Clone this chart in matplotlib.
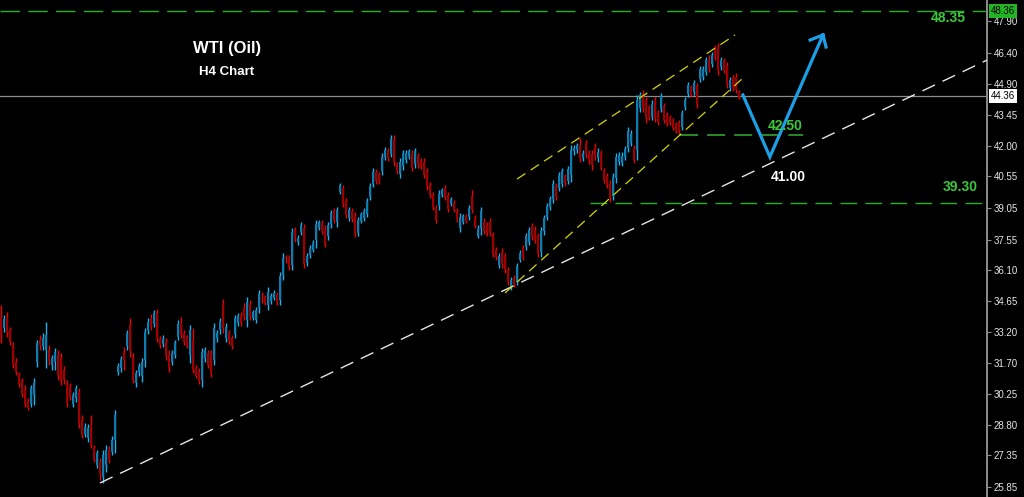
import matplotlib
matplotlib.use("Agg")
import matplotlib.pyplot as plt
import matplotlib.transforms as mtransforms
import numpy as np

plt.rcParams['font.family'] = ['Liberation Sans', 'DejaVu Sans']

# ---------------- data (H4 OHLC bars) ----------------
open_ = [
    33.84, 33.37, 33.84, 33.28, 32.57, 31.77, 31.20, 30.86, 30.44, 29.92,
    29.78, 30.20, 31.77, 32.81, 32.52, 32.33, 32.33, 31.62, 31.77, 32.10,
    31.95, 31.39, 30.67, 30.63, 29.78, 30.06, 30.35, 29.02, 28.36, 28.17,
    28.78, 27.70, 26.89, 27.04, 26.32, 26.89, 27.65, 27.51, 28.07, 31.29,
    31.48, 32.24, 32.52, 33.51, 32.00, 30.77, 31.29, 31.10, 31.86, 33.28,
    33.84, 33.56, 34.08, 32.85, 32.62, 32.71, 32.10, 31.77, 32.10, 32.95,
    33.61, 33.14, 32.95, 32.10, 32.81, 31.48, 31.29, 30.91, 31.95, 32.19,
    32.10, 31.86, 32.90, 33.28, 34.46, 32.90, 33.14, 32.90, 33.09, 33.61,
    33.99, 34.32, 33.75, 34.51, 33.84, 33.75, 34.32, 34.79, 34.84, 34.46,
    34.65, 34.79, 34.93, 34.70, 35.88, 36.69, 36.69, 36.35, 38.01, 37.44,
    37.91, 38.10, 36.45, 36.83, 37.06, 37.54, 38.10, 38.34, 38.01, 37.73,
    38.29, 38.91, 38.39, 39.81, 39.99, 39.38, 38.58, 38.91, 38.67, 37.87,
    38.44, 38.58, 38.77, 39.57, 40.19, 40.75, 40.61, 40.80, 41.46, 41.75,
    41.61, 42.32, 41.13, 40.66, 41.04, 41.32, 41.46, 41.65, 41.13, 41.51,
    41.27, 41.23, 40.75, 40.14, 39.67, 39.05, 39.15, 39.67, 39.99, 39.67,
    39.24, 39.28, 38.91, 38.10, 38.39, 38.67, 38.63, 39.62, 38.58, 37.73,
    38.10, 38.39, 38.25, 38.39, 37.77, 37.06, 36.35, 36.97, 36.78, 36.11,
    35.31, 35.74, 35.55, 36.59, 37.16, 37.21, 37.44, 38.20, 38.01, 37.73,
    36.97, 37.96, 38.63, 39.10, 39.48, 40.09, 39.99, 40.19, 40.56, 40.33,
    40.61, 41.75, 41.80, 42.03, 41.42, 42.13, 41.65, 41.61, 41.94, 41.42,
    41.65, 40.80, 40.56, 40.19, 39.62, 40.47, 41.23, 41.18, 41.46, 41.89,
    42.13, 41.89, 41.80, 43.78, 44.45, 44.16, 43.78, 43.36, 44.16, 43.55,
    43.74, 43.88, 43.45, 43.36, 43.17, 43.03, 43.07, 42.88, 43.83, 44.45,
    44.78, 44.54, 44.82, 45.15, 45.25, 45.49, 46.05, 45.87, 46.62, 46.67,
    45.72, 46.01, 45.77, 44.73, 45.20, 45.25, 44.54,
]
high = [
    34.46, 33.99, 34.13, 33.42, 32.71, 31.95, 31.29, 31.01, 30.67, 30.06,
    30.67, 31.01, 32.81, 33.04, 33.14, 33.66, 32.57, 32.10, 32.43, 32.33,
    32.19, 31.58, 30.91, 30.77, 30.35, 30.67, 30.53, 29.26, 28.88, 28.83,
    29.26, 27.84, 27.60, 27.22, 27.60, 27.84, 27.79, 28.26, 29.49, 31.72,
    32.05, 32.48, 33.28, 33.84, 32.19, 31.39, 31.72, 31.95, 33.37, 33.84,
    34.03, 34.22, 34.27, 32.99, 33.04, 32.90, 32.33, 32.33, 32.81, 33.75,
    33.89, 33.28, 33.04, 33.51, 33.37, 31.62, 31.48, 32.43, 32.48, 32.33,
    32.33, 33.61, 33.28, 33.84, 34.74, 33.61, 33.28, 33.04, 33.99, 34.08,
    34.13, 34.56, 34.84, 34.70, 34.22, 34.37, 35.17, 35.08, 34.93, 35.31,
    35.03, 35.17, 35.08, 36.02, 36.92, 36.83, 36.83, 38.10, 38.15, 37.77,
    38.39, 38.29, 36.92, 37.30, 37.54, 38.48, 38.48, 38.48, 38.25, 38.39,
    38.96, 39.05, 39.10, 40.23, 40.14, 39.52, 39.10, 39.05, 38.86, 38.63,
    38.86, 39.05, 39.52, 40.23, 40.94, 40.90, 40.75, 41.65, 41.94, 41.89,
    42.51, 42.51, 41.23, 41.42, 41.80, 41.80, 41.84, 41.80, 41.89, 41.65,
    41.42, 41.42, 40.94, 40.28, 39.81, 39.19, 39.90, 39.99, 40.14, 39.81,
    39.57, 39.43, 39.05, 38.81, 38.77, 38.77, 39.19, 39.90, 38.72, 38.25,
    39.10, 38.58, 38.39, 38.58, 37.91, 37.21, 36.92, 37.16, 36.92, 36.26,
    35.78, 35.88, 36.45, 37.06, 37.30, 37.87, 38.15, 38.34, 38.20, 37.87,
    38.15, 38.72, 39.28, 39.62, 40.38, 40.23, 40.75, 40.94, 40.66, 41.04,
    42.03, 42.03, 42.13, 42.36, 41.80, 42.27, 41.80, 41.80, 42.13, 41.89,
    41.80, 40.94, 40.70, 40.38, 40.70, 41.65, 41.70, 41.70, 41.99, 42.88,
    42.74, 42.03, 44.40, 44.54, 44.64, 44.30, 43.93, 44.16, 44.30, 43.69,
    44.49, 44.02, 43.59, 43.45, 43.31, 43.12, 43.22, 43.69, 44.30, 45.01,
    44.87, 45.11, 44.97, 45.77, 45.77, 46.20, 46.29, 46.43, 46.76, 46.86,
    46.20, 46.15, 45.96, 45.25, 45.34, 45.44, 44.64,
]
low = [
    32.67, 33.19, 32.95, 32.57, 31.48, 31.15, 30.58, 30.11, 29.64, 29.49,
    29.64, 29.73, 31.53, 32.33, 32.33, 31.48, 31.62, 31.39, 31.39, 30.91,
    30.67, 30.72, 29.64, 29.97, 29.64, 29.88, 28.64, 28.17, 28.22, 27.98,
    27.70, 27.04, 26.75, 26.18, 26.04, 26.56, 26.99, 27.36, 27.46, 31.15,
    31.29, 31.39, 32.33, 32.00, 30.77, 30.58, 31.10, 30.82, 31.53, 33.09,
    33.28, 33.42, 32.71, 32.43, 32.48, 31.86, 31.29, 31.62, 31.95, 32.81,
    32.90, 32.57, 32.43, 31.72, 31.24, 31.01, 30.72, 30.58, 31.77, 31.48,
    31.06, 31.62, 32.71, 33.09, 33.14, 32.71, 32.62, 32.38, 32.90, 33.47,
    33.47, 33.75, 33.42, 33.75, 33.75, 33.61, 34.08, 34.56, 34.46, 34.22,
    34.51, 34.70, 34.46, 34.46, 35.64, 36.45, 36.11, 36.11, 37.44, 37.30,
    37.77, 36.21, 36.30, 36.69, 36.97, 37.16, 38.01, 37.82, 37.21, 37.54,
    38.10, 38.34, 38.15, 39.71, 39.10, 38.58, 38.44, 38.39, 37.68, 37.73,
    38.34, 38.44, 38.63, 39.43, 40.05, 40.19, 40.19, 40.61, 41.32, 41.27,
    41.46, 41.04, 40.66, 40.47, 40.85, 41.18, 41.37, 40.80, 40.94, 40.94,
    40.90, 40.47, 39.90, 39.52, 38.96, 38.34, 38.96, 39.57, 39.43, 38.86,
    39.15, 38.86, 38.39, 37.91, 38.29, 38.34, 38.48, 38.81, 38.10, 37.63,
    37.77, 37.82, 37.73, 37.73, 36.73, 36.59, 36.21, 36.21, 35.97, 35.41,
    35.17, 35.31, 35.41, 36.49, 36.59, 37.06, 37.30, 37.54, 37.39, 36.73,
    36.73, 37.77, 38.48, 38.96, 39.28, 39.43, 39.86, 40.05, 40.09, 40.19,
    40.28, 41.56, 41.65, 41.23, 41.27, 41.42, 41.13, 40.85, 41.32, 41.23,
    40.85, 40.23, 39.99, 39.33, 39.43, 40.23, 41.09, 41.04, 41.32, 41.70,
    41.99, 41.18, 41.32, 43.59, 43.59, 43.07, 43.22, 43.22, 43.12, 42.98,
    43.59, 43.07, 42.93, 42.98, 42.74, 42.60, 42.55, 42.74, 43.69, 44.30,
    44.30, 44.40, 43.78, 45.01, 45.11, 45.34, 45.49, 45.72, 46.05, 45.34,
    45.58, 45.44, 44.73, 44.59, 44.59, 44.49, 44.21,
]
close = [
    33.14, 33.80, 33.14, 32.71, 31.62, 31.29, 30.72, 30.25, 29.78, 29.59,
    30.53, 30.77, 32.67, 32.57, 32.90, 33.04, 31.86, 31.95, 32.24, 31.15,
    30.91, 30.91, 29.83, 30.11, 30.20, 30.53, 28.88, 28.31, 28.69, 28.64,
    27.84, 27.13, 27.46, 26.47, 27.36, 27.60, 27.13, 28.07, 29.26, 31.58,
    31.91, 31.86, 33.14, 32.33, 30.91, 31.24, 31.58, 31.77, 33.19, 33.66,
    33.47, 34.08, 32.90, 32.57, 32.85, 32.05, 31.48, 32.19, 32.67, 33.56,
    33.04, 32.71, 32.57, 33.28, 31.39, 31.10, 30.86, 32.24, 32.33, 31.62,
    31.24, 33.37, 33.14, 33.70, 33.37, 33.42, 32.76, 32.52, 33.84, 33.94,
    33.61, 33.94, 34.60, 33.94, 34.13, 34.22, 34.98, 34.74, 34.56, 35.08,
    34.89, 35.03, 34.60, 35.83, 36.69, 36.64, 36.26, 37.91, 37.63, 37.63,
    38.25, 36.40, 36.78, 37.16, 37.39, 38.29, 38.39, 37.96, 37.35, 38.25,
    38.81, 38.48, 38.96, 40.14, 39.24, 38.72, 38.96, 38.53, 37.87, 38.48,
    38.77, 38.91, 39.38, 40.09, 40.75, 40.33, 40.33, 41.46, 41.80, 41.42,
    42.32, 41.23, 40.80, 41.23, 41.65, 41.65, 41.75, 40.94, 41.75, 41.09,
    40.99, 40.61, 40.09, 39.67, 39.10, 38.48, 39.71, 39.90, 39.57, 39.00,
    39.48, 38.96, 38.53, 38.63, 38.67, 38.44, 39.05, 38.96, 38.20, 38.06,
    38.91, 37.96, 37.87, 37.87, 36.87, 36.73, 36.78, 36.40, 36.11, 35.55,
    35.64, 35.45, 36.30, 36.92, 36.73, 37.73, 38.01, 37.68, 37.54, 36.87,
    37.96, 38.58, 39.15, 39.48, 40.19, 39.57, 40.61, 40.80, 40.23, 40.90,
    41.80, 41.89, 42.03, 41.42, 41.65, 41.56, 41.27, 41.09, 41.51, 41.70,
    40.99, 40.38, 40.14, 39.52, 40.52, 41.46, 41.56, 41.51, 41.84, 42.70,
    42.55, 41.32, 44.16, 44.40, 43.78, 43.31, 43.36, 43.97, 43.31, 43.12,
    44.35, 43.22, 43.03, 43.07, 42.84, 42.70, 42.70, 43.55, 44.16, 44.87,
    44.40, 44.97, 43.97, 45.63, 45.63, 46.05, 45.68, 46.29, 46.20, 45.58,
    46.05, 45.58, 44.92, 45.11, 44.73, 44.64, 44.30,
]

price_ticks = [47.90, 46.40, 44.90, 43.45, 42.00, 40.55, 39.05, 37.55,
               36.10, 34.65, 33.20, 31.70, 30.25, 28.80, 27.35, 25.85]
tick_labels = ["47.90", "46.40", "44.90", "43.45", "42.00", "40.55", "39.05", "37.55",
               "36.10", "34.65", "33.20", "31.70", "30.25", "28.80", "27.35", "25.85"]

current_price = 44.36
top_level = 48.36
top_label = "48.35"
level_4250 = 42.50
level_3930 = 39.30
target_low_label = "41.00"

# drawn tools (bar index, price)
trend_x = [33.0, 328.67]
trend_y = [26.04, 46.05]
chan_up_x = [172.0, 244.67]
chan_up_y = [40.42, 47.24]
chan_lo_x = [168.0, 247.0]
chan_lo_y = [35.03, 45.16]
l4250_x = [226.3, 267.3]
l3930_x = [196.3, 330.0]
arrow_x = [247.3, 256.3, 274.0]
arrow_y = [44.40, 41.47, 47.24]
wing_l_x = [269.7, 274.0]
wing_l_y = [47.00, 47.24]
wing_r_x = [275.0, 274.0]
wing_r_y = [46.67, 47.24]

# ---------------- figure ----------------
fig = plt.figure(figsize=(10.24, 4.97), dpi=100, facecolor='black')
ax = fig.add_axes([0, 0, 987 / 1024, 1])
ax.set_facecolor('black')
ax.set_xlim(-1 / 3, 986 / 3)
ax.set_ylim(25.376, 48.894)

o = np.array(open_)
h = np.array(high)
l = np.array(low)
c = np.array(close)
x = np.arange(len(c))
up = c >= o
dn = ~up

ax.vlines(x[up], l[up], h[up], color='#1cb2f2', lw=1.0, zorder=3)
ax.vlines(x[dn], l[dn], h[dn], color='#f00000', lw=1.0, zorder=3)
ax.bar(x[up], np.maximum(c[up] - o[up], 0.03), bottom=o[up], width=0.9,
       color='#0b7db0', lw=0, zorder=4)
ax.bar(x[dn], np.maximum(o[dn] - c[dn], 0.03), bottom=c[dn], width=0.9,
       color='#a00000', lw=0, zorder=4)

# horizontal levels
ax.axhline(current_price, color='#8c8c8c', lw=0.9, zorder=2)
ax.axhline(top_level, color='#22b422', lw=1.0, dashes=(14, 6), zorder=2)
ax.plot(l4250_x, [level_4250, level_4250], color='#2a962a', lw=1.3, dashes=(10, 5), zorder=2)
ax.plot(l3930_x, [level_3930, level_3930], color='#22b422', lw=1.0, dashes=(12, 6), zorder=2)

# trend / channel lines
ax.plot(trend_x, trend_y, color='#e6e6e6', lw=1.0, dashes=(10, 6), zorder=5)
ax.plot(chan_up_x, chan_up_y, color='#d6d600', lw=0.9, dashes=(8, 5), zorder=5)
ax.plot(chan_lo_x, chan_lo_y, color='#d6d600', lw=0.9, dashes=(8, 5), zorder=5)

# projection arrow
ax.plot(arrow_x, arrow_y, color='#1ba0e6', lw=2.3, zorder=6, solid_joinstyle='miter')
ax.plot(wing_l_x, wing_l_y, color='#1ba0e6', lw=2.3, zorder=6)
ax.plot(wing_r_x, wing_r_y, color='#1ba0e6', lw=2.3, zorder=6)

# texts
ax.text(75.3, 46.62, "WTI (Oil)", color='white', fontsize=12, fontweight='bold',
        ha='center', va='center')
ax.text(75.3, 45.51, "H4 Chart", color='white', fontsize=9.5, fontweight='bold',
        ha='center', va='center')
ax.text(315.7, 48.04, top_label, color='#3cc83c', fontsize=10, fontweight='bold',
        ha='center', va='center')
ax.text(261.3, 42.93, "42.50", color='#3cc83c', fontsize=10, fontweight='bold',
        ha='center', va='center', zorder=7)
ax.text(262.3, 40.52, target_low_label, color='white', fontsize=10, fontweight='bold',
        ha='center', va='center')
ax.text(319.7, 40.04, "39.30", color='#3cc83c', fontsize=10, fontweight='bold',
        ha='center', va='center')

# axes styling
for s in ['top', 'left', 'bottom']:
    ax.spines[s].set_visible(False)
ax.spines['right'].set_color('#8c8c8c')
ax.spines['right'].set_linewidth(1.4)
ax.set_xticks([])
ax.yaxis.tick_right()
ax.set_yticks(price_ticks)
ax.set_yticklabels(tick_labels)
ax.tick_params(axis='y', length=3, width=0.8, color='#8c8c8c', labelcolor='#e6e6e6',
               labelsize=7, pad=2)

trans = mtransforms.blended_transform_factory(ax.transAxes, ax.transData)
ax.text(1.004, current_price, "44.36", transform=trans, fontsize=7, color='black',
        ha='left', va='center', clip_on=False,
        bbox=dict(facecolor='white', edgecolor='none', pad=1.3))
ax.text(1.004, top_level, "48.36", transform=trans, fontsize=7, color='black',
        ha='left', va='center', clip_on=False,
        bbox=dict(facecolor='#22b422', edgecolor='none', pad=1.3))

fig.savefig("out.png", dpi=100, facecolor='black')
